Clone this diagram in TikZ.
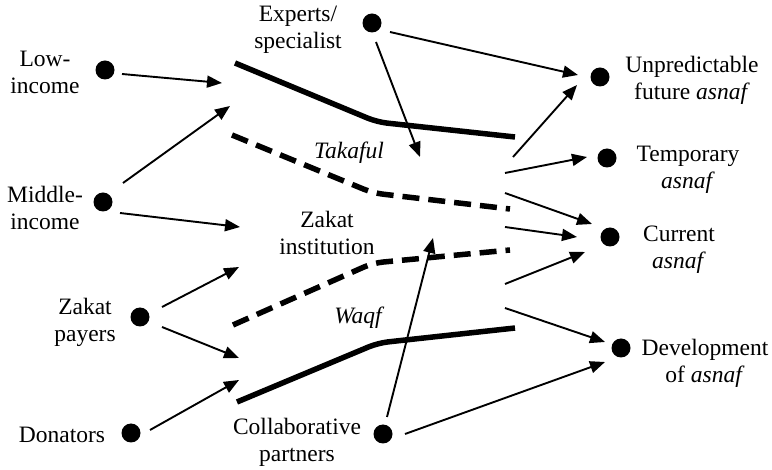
\documentclass[tikz,border=0pt]{standalone}
\usepackage{fontspec}
\setmainfont{Liberation Serif}
\usetikzlibrary{arrows.meta}
\begin{document}
\begin{tikzpicture}[x=1pt,y=-1pt,
  dot/.style={circle,fill=black,inner sep=0pt,minimum size=19pt},
  lbl/.style={align=center,font=\fontsize{23.5}{27}\selectfont,inner sep=0pt},
  arr/.style={line width=1.9pt,-{Triangle[length=15pt,width=12pt]}},
  band/.style={line width=5.5pt,rounded corners=10pt},
  dband/.style={band,dash pattern=on 17pt off 9pt}
]
\useasboundingbox (0,0) rectangle (772,470);
% dots
\node[dot] (low) at (105,70) {};
\node[dot] (mid) at (103,202) {};
\node[dot] (zp) at (140,317) {};
\node[dot] (don) at (131,433) {};
\node[dot] (exp) at (372,23) {};
\node[dot] (col) at (383,434) {};
\node[dot] (unp) at (600,77) {};
\node[dot] (tmp) at (607,158) {};
\node[dot] (cur) at (610,237) {};
\node[dot] (dev) at (621,348) {};
% labels
\node[lbl] (tlow) at (45,72) {Low-\\income};
\node[lbl] (tmid) at (45,208) {Middle-\\income};
\node[lbl] (tzp) at (85,322) {Zakat\\payers};
\node[lbl] (tdon) at (62,435) {Donators};
\node[lbl] (texp) at (298,30) {Experts/\\specialist};
\node[lbl] (ttak) at (349,153) {\itshape Takaful};
\node[lbl] (tzi) at (327,233) {Zakat\\institution};
\node[lbl] (twaq) at (358,318) {\itshape Waqf};
\node[lbl] (tcol) at (297,442) {Collaborative\\partners};
\node[lbl] (tunp) at (692,80) {Unpredictable\\future \textit{asnaf}};
\node[lbl] (ttmp) at (688,170) {Temporary\\\textit{asnaf}};
\node[lbl] (tcur) at (679,250) {Current\\\textit{asnaf}};
\node[lbl] (tdev) at (705,363) {Development\\of \textit{asnaf}};
% arrow ends
\coordinate (a1s) at (122,74);  \coordinate (a1e) at (222,83);
\coordinate (a2s) at (123,183); \coordinate (a2e) at (230,106);
\coordinate (a3s) at (120,213); \coordinate (a3e) at (240,227);
\coordinate (a4s) at (162,307); \coordinate (a4e) at (239,267);
\coordinate (a5s) at (162,327); \coordinate (a5e) at (239,358);
\coordinate (a6s) at (150,430); \coordinate (a6e) at (239,380);
\coordinate (a7s) at (390,32);  \coordinate (a7e) at (578,75);
\coordinate (a8s) at (376,42);  \coordinate (a8e) at (420,157);
\coordinate (a9s) at (513,157); \coordinate (a9e) at (577,85);
\coordinate (a10s) at (505,173); \coordinate (a10e) at (587,157);
\coordinate (a11s) at (505,193); \coordinate (a11e) at (592,224);
\coordinate (a12s) at (505,227); \coordinate (a12e) at (577,237);
\coordinate (a13s) at (505,284); \coordinate (a13e) at (585,252);
\coordinate (a14s) at (505,308); \coordinate (a14e) at (605,342);
\coordinate (a15s) at (405,434); \coordinate (a15e) at (605,362);
\coordinate (a16s) at (387,417); \coordinate (a16e) at (433,238);
\foreach \i in {1,...,16} \draw[arr] (a\i s) -- (a\i e);
% bands
\coordinate (b1a) at (235,63);  \coordinate (b1b) at (377,122); \coordinate (b1c) at (515,137);
\coordinate (b2a) at (232,135); \coordinate (b2b) at (373,193); \coordinate (b2c) at (510,209);
\coordinate (b3a) at (233,325); \coordinate (b3b) at (373,263); \coordinate (b3c) at (510,250);
\coordinate (b4a) at (237,402); \coordinate (b4b) at (378,343); \coordinate (b4c) at (515,328);
\draw[band] (b1a) -- (b1b) -- (b1c);
\draw[dband] (b2a) -- (b2b) -- (b2c);
\draw[dband] (b3a) -- (b3b) -- (b3c);
\draw[band] (b4a) -- (b4b) -- (b4c);
\end{tikzpicture}
\end{document}
